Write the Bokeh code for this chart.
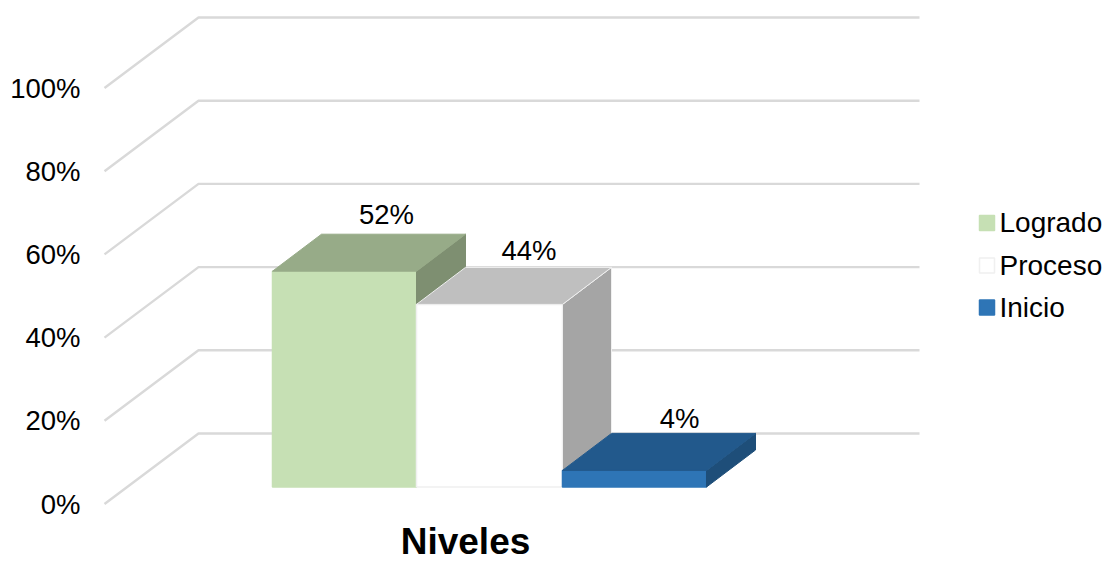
from bokeh.core.properties import value
from bokeh.embed import file_html
from bokeh.models import Range1d
from bokeh.plotting import figure
from bokeh.resources import INLINE

# Chart data
series = ["Logrado", "Proceso", "Inicio"]
percent = [52, 44, 4]
tick_values = [0, 20, 40, 60, 80, 100]
category = "Niveles"

# Face colours per series
front_colors = ["#c6e0b4", "#ffffff", "#2e75b6"]
top_colors = ["#97ab88", "#bfbfbf", "#22598c"]
side_colors = ["#7e8f71", "#a5a5a5", "#1e4e79"]
edge_colors = ["#c6e0b4", "#f0f0f0", "#2e75b6"]

# Layout, in page pixels
W, H = 1107, 562
BASE_Y = 486.5          # page row of 0% on the plane of the bar fronts
PX_PER_PCT = 4.15
FONT = value("Liberation Sans")


def row(pct_from_base_px):
    """Convert an upward pixel offset from the bar base into percent units."""
    return pct_from_base_px / PX_PER_PCT


def page_y(y_px):
    """Convert a page row into the percent scale of the y axis."""
    return (BASE_Y - y_px) / PX_PER_PCT


p = figure(width=W, height=H, output_backend="svg", toolbar_location=None,
           x_range=Range1d(0, W), y_range=Range1d(page_y(H), page_y(0)),
           min_border=0, outline_line_color=None)
p.xaxis.visible = False
p.yaxis.visible = False
p.xgrid.visible = False
p.ygrid.visible = False
p.background_fill_color = "white"

# Gridlines: along the floor wall on the left, then across the back wall
FLOOR_X0, BACK_X0, BACK_X1 = 104, 198, 919
GRID_PX = 4.16
WALL_FRONT_0 = 503.5
WALL_BACK_0 = 433
for t in tick_values:
    yf = page_y(WALL_FRONT_0 - GRID_PX * t)
    yb = page_y(WALL_BACK_0 - GRID_PX * t)
    p.line([FLOOR_X0, BACK_X0, BACK_X1], [yf, yb, yb],
           line_color="#d9d9d9", line_width=2.4)

# Axis tick labels
p.text([80] * len(tick_values),
       [page_y(WALL_FRONT_0 - GRID_PX * t) for t in tick_values],
       text=[f"{t}%" for t in tick_values],
       text_font=FONT, text_font_size="27.5px", text_color="#000000",
       text_align="right", text_baseline="middle")

# Bars with an oblique top and right side
BAR_X0 = [272, 416, 562]
BAR_X1 = [416, 562, 706]
DX, DY = 49, row(37)
for i, v in enumerate(percent):
    x0, x1 = BAR_X0[i], BAR_X1[i]
    p.patch([x0, x1, x1, x0], [0, 0, v, v],
            fill_color=front_colors[i], line_color=edge_colors[i], line_width=1.5)
    p.patch([x1, x1 + DX, x1 + DX, x1], [0, DY, v + DY, v],
            fill_color=side_colors[i], line_color=side_colors[i] if i != 1 else "#f0f0f0",
            line_width=1)
    p.patch([x0, x1, x1 + DX, x0 + DX], [v, v, v + DY, v + DY],
            fill_color=top_colors[i], line_color=top_colors[i] if i != 1 else "#f0f0f0",
            line_width=1)

# Value labels above each bar
LABEL_NUDGE_X = [17.5, 15, 20.5]
LABEL_NUDGE_Y = [row(19.5), row(17), row(15)]
p.text([(BAR_X0[i] + BAR_X1[i] + DX) / 2 + LABEL_NUDGE_X[i] for i in range(3)],
       [percent[i] + DY + LABEL_NUDGE_Y[i] for i in range(3)],
       text=[f"{v}%" for v in percent],
       text_font=FONT, text_font_size="27.5px", text_color="#000000",
       text_align="center", text_baseline="middle")

# Category title under the bars
p.text([465], [page_y(561)], text=[category],
       text_font=FONT, text_font_size="37px", text_font_style="bold",
       text_color="#000000", text_align="center", text_baseline="bottom")

# Legend
LEGEND_Y = [222.5, 265, 307]
for i, name in enumerate(series):
    y = page_y(LEGEND_Y[i])
    half = row(7.5)
    p.patch([979, 994, 994, 979], [y - half, y - half, y + half, y + half],
            fill_color=front_colors[i], line_color=edge_colors[i], line_width=1.5)
    p.text([999], [y + row(0.5)], text=[name], text_font=FONT, text_font_size="28px",
           text_color="#000000", text_align="left", text_baseline="middle")

open("out.html", "w").write(file_html(p, INLINE))
